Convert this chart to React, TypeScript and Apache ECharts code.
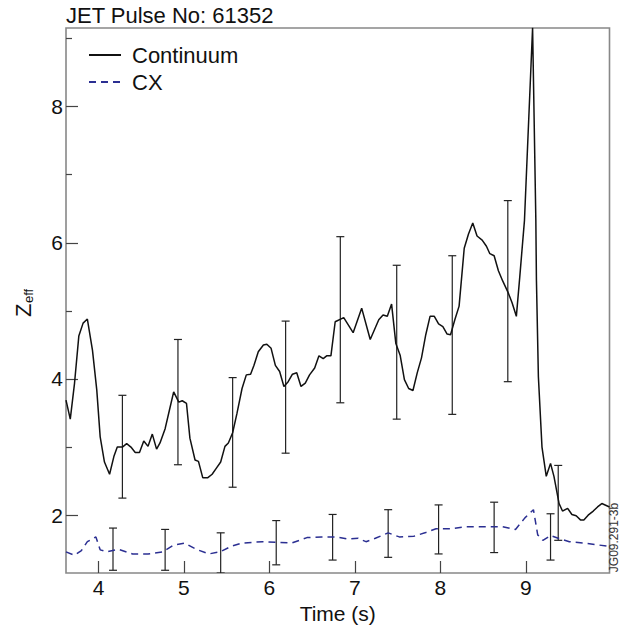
import React, { useEffect, useRef } from "react";
import * as echarts from "echarts";

const continuumX = [
  3.62, 3.67, 3.72, 3.77, 3.82, 3.87, 3.93, 3.98, 4.02, 4.07, 4.13, 4.18, 4.22, 4.28, 4.33, 4.38, 4.43, 4.48,
  4.53, 4.58, 4.63, 4.68, 4.72, 4.78, 4.83, 4.88, 4.94, 4.98, 5.03, 5.07, 5.13, 5.17, 5.22, 5.28, 5.33, 5.38,
  5.43, 5.48, 5.52, 5.57, 5.62, 5.68, 5.73, 5.78, 5.82, 5.87, 5.93, 5.97, 6.02, 6.07, 6.12, 6.17, 6.22, 6.27,
  6.32, 6.37, 6.42, 6.47, 6.53, 6.58, 6.63, 6.67, 6.72, 6.77, 6.87, 6.98, 7.08, 7.18, 7.28, 7.33, 7.38, 7.43,
  7.48, 7.53, 7.58, 7.63, 7.68, 7.73, 7.78, 7.83, 7.88, 7.93, 7.98, 8.03, 8.08, 8.12, 8.17, 8.22, 8.28, 8.33,
  8.38, 8.43, 8.49, 8.54, 8.58, 8.63, 8.68, 8.73, 8.79, 8.84, 8.89, 8.93, 8.985, 9.08, 9.118, 9.125, 9.148,
  9.19, 9.24, 9.29, 9.33, 9.39, 9.43, 9.49, 9.54, 9.59, 9.64, 9.68, 9.73, 9.79, 9.84, 9.89, 9.98,
];
const continuumY = [
  3.69, 3.41, 3.94, 4.63, 4.82, 4.88, 4.42, 3.84, 3.15, 2.78, 2.6, 2.86, 3.0, 3.0, 3.05, 3.0, 2.92, 2.92,
  3.09, 3.01, 3.19, 2.97, 3.06, 3.27, 3.54, 3.81, 3.66, 3.68, 3.64, 3.13, 2.81, 2.79, 2.55, 2.55, 2.6, 2.69,
  2.78, 3.01, 3.06, 3.21, 3.49, 3.86, 4.06, 4.07, 4.2, 4.4, 4.5, 4.51, 4.45, 4.2, 4.11, 3.89, 3.96, 4.07,
  4.09, 3.89, 3.94, 4.06, 4.16, 4.34, 4.3, 4.34, 4.34, 4.84, 4.9, 4.68, 5.04, 4.58, 4.87, 4.94, 4.92, 5.1,
  4.52, 4.35, 3.99, 3.86, 3.83, 4.09, 4.31, 4.65, 4.92, 4.92, 4.81, 4.77, 4.66, 4.65, 4.87, 5.07, 5.92, 6.13,
  6.29, 6.1, 6.04, 5.95, 5.84, 5.81, 5.59, 5.44, 5.28, 5.12, 4.92, 5.5, 6.33, 9.16, 6.33, 5.45, 4.03,
  3.0, 2.57, 2.76, 2.57, 2.17, 2.06, 2.1, 2.01, 1.99, 1.93, 1.93, 2.0, 2.06, 2.12, 2.17, 2.12,
];

const cxX = [
  3.62, 3.72, 3.8, 3.87, 3.97, 4.02, 4.1, 4.23, 4.4, 4.58, 4.75, 4.88, 5.01, 5.14, 5.29, 5.42, 5.55, 5.68,
  5.92, 6.09, 6.26, 6.44, 6.61, 6.78, 6.91, 7.04, 7.13, 7.24, 7.39, 7.52, 7.69, 7.82, 7.95, 8.12, 8.3, 8.51,
  8.73, 8.88, 8.99, 9.09, 9.14, 9.2, 9.29, 9.38, 9.51, 9.68, 9.98,
];
const cxY = [
  1.46, 1.41, 1.48, 1.61, 1.68, 1.49, 1.46, 1.5, 1.43, 1.43, 1.46, 1.56, 1.59, 1.5, 1.43, 1.46, 1.54, 1.59,
  1.61, 1.6, 1.59, 1.67, 1.68, 1.68, 1.65, 1.66, 1.61, 1.66, 1.74, 1.68, 1.69, 1.74, 1.8, 1.8, 1.83, 1.83,
  1.83, 1.79, 1.96, 2.08, 1.71, 1.63, 1.7, 1.66, 1.61, 1.59, 1.54,
];

// error bars: time, low, high
const contErrT = [4.28, 4.93, 5.57, 6.19, 6.83, 7.49, 8.14, 8.79, 9.38];
const contErrLow = [2.25, 2.74, 2.41, 2.91, 3.65, 3.41, 3.48, 3.96, 1.63];
const contErrHigh = [3.76, 4.58, 4.02, 4.85, 6.09, 5.67, 5.81, 6.62, 2.73];

const cxErrT = [4.17, 4.78, 5.43, 6.08, 6.74, 7.39, 7.98, 8.63, 9.29];
const cxErrLow = [1.19, 1.19, 1.15, 1.27, 1.34, 1.38, 1.43, 1.45, 1.34];
const cxErrHigh = [1.81, 1.79, 1.74, 1.92, 2.01, 2.08, 2.15, 2.19, 2.02];

const xTicks = [4, 5, 6, 7, 8, 9];
const yMajorTicks = [2, 4, 6, 8];
const yMinorTicks = [3, 5, 7, 9];

const FONT = "'Liberation Sans', Arial, Helvetica, sans-serif";

function errorBarSeries(t: number[], lo: number[], hi: number[]) {
  return {
    type: "custom",
    xAxisIndex: 0,
    yAxisIndex: 0,
    silent: true,
    clip: true,
    data: t.map((v, i) => [v, lo[i], hi[i]]),
    renderItem: (params: any, api: any) => {
      const p1 = api.coord([api.value(0), api.value(1)]);
      const p2 = api.coord([api.value(0), api.value(2)]);
      const hw = 4;
      const style = { stroke: "#222", lineWidth: 1.2 };
      return {
        type: "group",
        children: [
          { type: "line", shape: { x1: p1[0], y1: p1[1], x2: p2[0], y2: p2[1] }, style },
          { type: "line", shape: { x1: p1[0] - hw, y1: p1[1], x2: p1[0] + hw, y2: p1[1] }, style },
          { type: "line", shape: { x1: p2[0] - hw, y1: p2[1], x2: p2[0] + hw, y2: p2[1] }, style },
        ],
      };
    },
  };
}

export default function App() {
  const ref = useRef<HTMLDivElement>(null);
  useEffect(() => {
    if (!ref.current) return;
    const chart = echarts.init(ref.current, undefined, { renderer: "svg" });
    const yAxisBase = {
      type: "value",
      min: 1.15,
      max: 9.155,
      splitLine: { show: false },
      axisLine: { show: false },
    };
    chart.setOption({
      animation: false,
      backgroundColor: "#fff",
      textStyle: { fontFamily: FONT },
      title: {
        text: "JET Pulse No: 61352",
        left: 66,
        top: 4,
        padding: 0,
        textStyle: { fontFamily: FONT, fontSize: 22, fontWeight: "normal", color: "#111" },
      },
      legend: {
        data: ["Continuum", "CX"],
        orient: "vertical",
        left: 88,
        top: 44,
        padding: 0,
        itemWidth: 32,
        itemHeight: 14,
        itemGap: 5,
        itemStyle: { opacity: 0 },
        textStyle: { fontFamily: FONT, fontSize: 22, color: "#111", padding: [0, 0, 0, 6] },
      },
      grid: {
        left: 66,
        top: 28,
        right: 22.5,
        bottom: 57,
        show: true,
        borderColor: "#888",
        borderWidth: 1.6,
        backgroundColor: "transparent",
      },
      xAxis: {
        type: "value",
        min: 3.62,
        max: 9.98,
        splitLine: { show: false },
        axisLine: { show: false },
        axisTick: { inside: true, length: 12, customValues: xTicks, lineStyle: { color: "#444", width: 1.2 } },
        axisLabel: { customValues: xTicks, margin: 4, fontFamily: FONT, fontSize: 21, color: "#111" },
        name: "Time (s)",
        nameLocation: "middle",
        nameGap: 29,
        nameTextStyle: { fontFamily: FONT, fontSize: 21, color: "#111" },
      },
      yAxis: [
        {
          ...yAxisBase,
          axisTick: { inside: true, length: 12, customValues: yMajorTicks, lineStyle: { color: "#444", width: 1.2 } },
          axisLabel: { customValues: yMajorTicks, margin: 3, fontFamily: FONT, fontSize: 21, color: "#111" },
        },
        {
          ...yAxisBase,
          position: "left",
          axisTick: { inside: true, length: 6, customValues: yMinorTicks, lineStyle: { color: "#444", width: 1.2 } },
          axisLabel: { show: false },
        },
      ],
      series: [
        {
          name: "Continuum",
          type: "line",
          symbol: "none",
          data: continuumX.map((x, i) => [x, continuumY[i]]),
          lineStyle: { color: "#111", width: 1.5 },
          itemStyle: { color: "#111" },
          clip: true,
        },
        {
          name: "CX",
          type: "line",
          symbol: "none",
          data: cxX.map((x, i) => [x, cxY[i]]),
          lineStyle: { color: "#2b2f92", width: 1.5, type: [7, 5] },
          itemStyle: { color: "#2b2f92" },
          clip: true,
        },
        errorBarSeries(contErrT, contErrLow, contErrHigh),
        errorBarSeries(cxErrT, cxErrLow, cxErrHigh),
      ],
      graphic: [
        {
          type: "group",
          x: 23.5,
          y: 317,
          rotation: Math.PI / 2,
          children: [
            {
              type: "text",
              x: 0,
              y: 0,
              style: { text: "Z", font: `22px ${FONT}`, fill: "#111", textAlign: "left", textVerticalAlign: "middle" },
            },
            {
              type: "text",
              x: 14,
              y: 5,
              style: { text: "eff", font: `13px ${FONT}`, fill: "#111", textAlign: "left", textVerticalAlign: "middle" },
            },
          ],
        },
        {
          type: "text",
          x: 614,
          y: 537.5,
          rotation: Math.PI / 2,
          style: {
            text: "JG09.291-3b",
            font: `12px ${FONT}`,
            fill: "#333",
            textAlign: "center",
            textVerticalAlign: "middle",
          },
        },
      ],
    });
    return () => chart.dispose();
  }, []);
  return (
    <div
      ref={ref}
      style={{ position: "absolute", left: 0, top: 0, width: 632, height: 630 }}
    />
  );
}
